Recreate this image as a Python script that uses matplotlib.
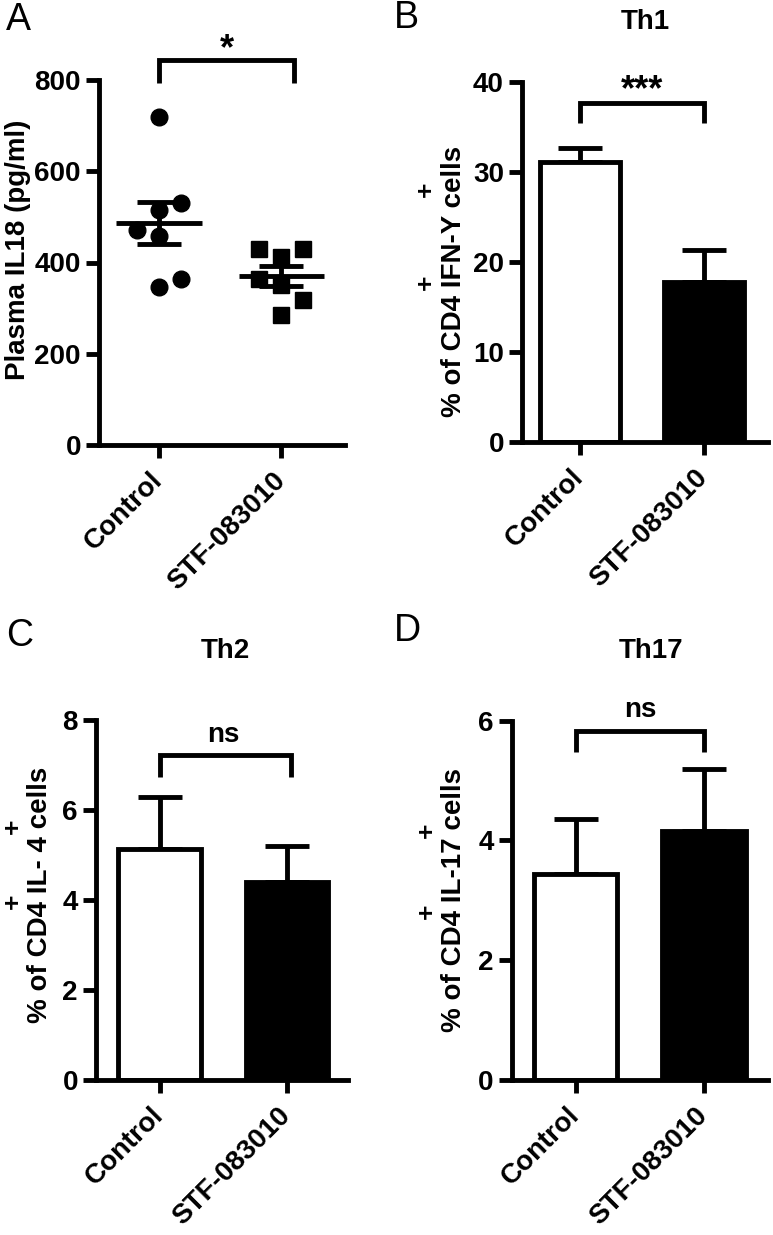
import numpy as np
import matplotlib
matplotlib.use('Agg')
import matplotlib.pyplot as plt

plt.rcParams['font.family'] = ['Liberation Sans', 'DejaVu Sans']
plt.rcParams['font.weight'] = 'bold'

groups = ['Control', 'STF-083010']

# Panel A: individual plasma IL18 values (pg/ml)
il18_control = [720, 530, 515, 471, 459, 364, 347]
il18_control_jitter = [0, 0.18, 0, -0.18, 0, 0.18, 0]
il18_stf = [430, 430, 413, 363, 351, 318, 285]
il18_stf_jitter = [-0.18, 0.18, 0, -0.18, 0, 0.18, 0]

# Panels B-D: mean and SEM (%)
th1_mean = [31.1, 17.8]
th1_sem = [1.5, 3.5]
th2_mean = [5.13, 4.41]
th2_sem = [1.17, 0.79]
th17_mean = [3.44, 4.16]
th17_sem = [0.92, 1.03]

W, H = 773, 1235
fig = plt.figure(figsize=(W / 100, H / 100), dpi=100)
LW = 3.5
FS = 20


def add_axes(l, r, t, b):
    return fig.add_axes([l / W, 1 - b / H, (r - l) / W, (b - t) / H])


def style(ax, xlim, ylim, yticks):
    ax.set_xlim(*xlim)
    ax.set_ylim(*ylim)
    ax.set_yticks(yticks)
    ax.set_xticks([0, 1])
    ax.set_xticklabels(groups, rotation=45, ha='right', va='center',
                       rotation_mode='anchor', fontweight='bold')
    for s in ['top', 'right']:
        ax.spines[s].set_visible(False)
    for s in ['left', 'bottom']:
        ax.spines[s].set_linewidth(LW)
    ax.tick_params(axis='both', width=LW, length=9.5, labelsize=FS)
    ax.tick_params(axis='x', pad=13)
    ax.tick_params(axis='y', pad=3.5)
    for lab in ax.get_yticklabels():
        lab.set_fontweight('bold')
    ax.set_facecolor('none')


def bracket(ax, x0, x1, ylo, yhi, text, ty, tx, fs):
    ax.plot([x0, x0, x1, x1], [ylo, yhi, yhi, ylo], color='black', lw=LW,
            clip_on=False, solid_joinstyle='miter', solid_capstyle='butt')
    ax.text(tx, ty, text, ha='center', va='baseline', fontsize=fs,
            fontweight='bold', clip_on=False)


def bar_panel(ax, means, sems):
    x = np.arange(len(means))
    ax.bar(x, means, width=0.65, color=['white', 'black'], edgecolor='black',
           linewidth=LW, zorder=2)
    ax.errorbar(x, means, yerr=[np.zeros(len(sems)), sems], fmt='none',
                ecolor='black', elinewidth=LW, capsize=16, capthick=LW, zorder=1)


def px(xp, yp):
    return xp / W, 1 - yp / H


def plus(xp, yp):
    fig.text(*px(xp, yp), '+', rotation=90, ha='center', va='center',
             fontsize=19, fontweight='bold')


# ---------------- Panel A ----------------
axA = add_axes(99, 345, 80, 445)
xc = np.array(il18_control_jitter)
xs = 1 + np.array(il18_stf_jitter)
axA.plot(xc, il18_control, 'o', color='black', markersize=12, zorder=2, clip_on=False)
axA.plot(xs, il18_stf, 's', color='black', markersize=12, zorder=2, clip_on=False)
for i, vals in enumerate([il18_control, il18_stf]):
    v = np.array(vals, dtype=float)
    m = v.mean()
    sem = v.std(ddof=1) / np.sqrt(len(v))
    axA.hlines(m, i - 0.35, i + 0.35, color='black', lw=LW, zorder=3)
    axA.errorbar([i], [m], yerr=[sem], fmt='none', ecolor='black', elinewidth=LW,
                 capsize=16, capthick=LW, zorder=3)
style(axA, (-0.49, 1.52), (0, 800), [0, 200, 400, 600, 800])
bracket(axA, 0, 1.1, 794, 844, '*', 846, 0.556, 26)
fig.text(*px(18.5, 250), 'Plasma IL18 (pg/ml)', rotation=90, ha='center',
         va='center', fontsize=FS, fontweight='bold')

# ---------------- Panel B ----------------
axB = add_axes(522, 768, 81.7, 442)
bar_panel(axB, th1_mean, th1_sem)
style(axB, (-0.47, 1.52), (0, 40), [0, 10, 20, 30, 40])
bracket(axB, 0, 1.0, 35.4, 37.6, '***', 38.0, 0.5, 26)
fig.text(*px(454, 281.7), '% of CD4 IFN-Y cells', rotation=90, ha='center',
         va='center', fontsize=FS, fontweight='bold')
plus(426, 282)
plus(426, 189)
fig.text(*px(645, 22), 'Th1', ha='center', va='center', fontsize=20, fontweight='bold')

# ---------------- Panel C ----------------
axC = add_axes(96, 348, 720, 1080)
bar_panel(axC, th2_mean, th2_sem)
style(axC, (-0.50, 1.48), (0, 8), [0, 2, 4, 6, 8])
bracket(axC, 0, 1.03, 6.74, 7.22, 'ns', 7.52, 0.5, FS)
fig.text(*px(40, 895), '% of CD4 IL- 4 cells', rotation=90, ha='center',
         va='center', fontsize=FS, fontweight='bold')
plus(13, 901.7)
plus(13, 826.7)
fig.text(*px(225, 651), 'Th2', ha='center', va='center', fontsize=20, fontweight='bold')

# ---------------- Panel D ----------------
axD = add_axes(511.7, 768, 720.7, 1080)
bar_panel(axD, th17_mean, th17_sem)
style(axD, (-0.50, 1.50), (0, 6), [0, 2, 4, 6])
bracket(axD, 0, 1.0, 5.47, 5.83, 'ns', 6.06, 0.5, FS)
fig.text(*px(454, 900), '% of CD4 IL-17 cells', rotation=90, ha='center',
         va='center', fontsize=FS, fontweight='bold')
plus(427, 911.7)
plus(427, 830)
fig.text(*px(651, 651), 'Th17', ha='center', va='center', fontsize=20, fontweight='bold')

# Panel letters
for letter, (lx, ly) in zip('ABCD', [(18, 20), (406, 18.5), (20, 636), (407, 631)]):
    fig.text(*px(lx, ly), letter, ha='center', va='center', fontsize=27,
             fontweight='normal')

fig.savefig('out.png', dpi=100, facecolor='white')
